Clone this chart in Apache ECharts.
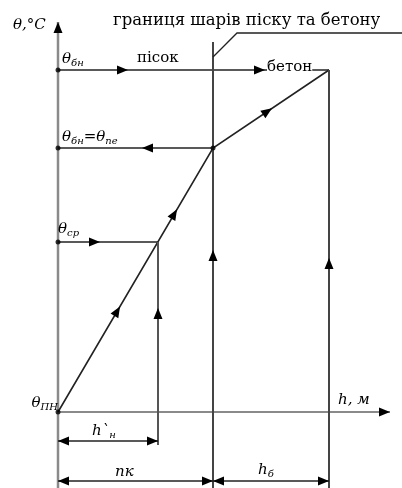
<!DOCTYPE html>
<html>
<head>
<meta charset="utf-8">
<script src="https://cdn.jsdelivr.net/npm/echarts@6/dist/echarts.min.js"></script>
<style>
  html, body { margin: 0; background: #fff; }
  #chart { width: 402px; height: 488px; }
</style>
</head>
<body>
<div id="chart"></div>
<script>
// schematic units: h along the layers, θ temperature, origin = θПН
const hMarks = [0, 10.0, 15.5, 27.1];        // 0, h`н, hпк, hпк + hб
const thetaMarks = [0, 17.0, 26.4, 34.2];    // θПН, θср, θбн=θпе, θбн
const hAxisEnd = 33.2;
const thetaAxisEnd = 39.0;
const lowEdge = -7.6;

// temperature profile: sand, then concrete
const profile = [[0, 0], [15.5, 26.4], [27.1, 34.2]];

// arrows on the profile: [segment, h of tip]
const flowArrows = [[0, 6.2], [0, 11.9], [1, 21.4]];
// arrows on the level lines: [h tip, θ, direction]
const levelArrows = [[7.0, 34.2, 0], [20.7, 34.2, 0], [8.4, 26.4, 180], [4.2, 17.0, 0]];
// arrows going up the verticals: [h, θ tip]
const riseArrows = [[10.0, 10.4], [15.5, 16.2], [27.1, 15.4]];
// dimension lines: [h from, h to, θ]
const dims = [[0, 10.0, -2.9], [0, 15.5, -6.9], [15.5, 27.1, -6.9]];
// leader to the caption
const leader = [[15.5, 35.5], [17.9, 37.9], [34.4, 37.9]];

const labels = [
  { at: [5.5, 38.3], text: 'границя шарів піску та бетону', kind: 'title' },
  { at: [7.9, 34.6], text: 'пісок', kind: 'plain' },
  { at: [20.9, 33.7], text: 'бетон', kind: 'plain' },
  { at: [-4.5, 37.9], text: '{t|θ,°C}', kind: 'rich' },
  { at: [0.4, 34.4], text: '{t|θ}{s|бн}', kind: 'rich' },
  { at: [0.4, 26.6], text: '{t|θ}{s|бн}{t|=θ}{s|пе}', kind: 'rich' },
  { at: [0.0, 17.4], text: '{t|θ}{s|ср}', kind: 'rich' },
  { at: [0.0, 0.0], text: '{t|θ}{s|ПН}', kind: 'rich', align: 'right' },
  { at: [28.0, 0.4], text: '{t|h, м}', kind: 'rich' },
  { at: [3.4, -2.8], text: '{t|h`}{s|н}', kind: 'rich' },
  { at: [5.7, -6.8], text: '{t|пк}', kind: 'rich' },
  { at: [20.0, -6.7], text: '{t|h}{s|б}', kind: 'rich' }
];

const axisGrey = '#8a8a8a';
const ink = '#222';
const serif = '"DejaVu Serif", "Liberation Serif", serif';

const segLines = [];
function addLine(coords, color, width) {
  segLines.push({ coords: coords, lineStyle: { color: color, width: width, opacity: 1 } });
}
addLine([[0, lowEdge], [0, thetaAxisEnd]], axisGrey, 2.5);
addLine([[0, 0], [hAxisEnd, 0]], axisGrey, 2);
addLine(profile, ink, 1.6);
addLine([[0, thetaMarks[3]], [hMarks[3], thetaMarks[3]]], ink, 1.5);
addLine([[0, thetaMarks[2]], [hMarks[2], thetaMarks[2]]], ink, 1.5);
addLine([[0, thetaMarks[1]], [hMarks[1], thetaMarks[1]]], ink, 1.5);
addLine([[hMarks[1], thetaMarks[1]], [hMarks[1], -3.3]], '#555', 2);
addLine([[hMarks[2], 37.0], [hMarks[2], lowEdge]], '#444', 2);
addLine([[hMarks[3], thetaMarks[3]], [hMarks[3], lowEdge]], '#444', 2);
addLine(leader, ink, 1.3);
dims.forEach(d => addLine([[d[0], d[2]], [d[1], d[2]]], ink, 1.5));

// every arrow as [h, θ, angle]
const arrows = [];
arrows.push([0, thetaAxisEnd, 90], [hAxisEnd, 0, 0]);
flowArrows.forEach(f => {
  const a = profile[f[0]], b = profile[f[0] + 1];
  const k = (b[1] - a[1]) / (b[0] - a[0]);
  const ang = Math.atan2(b[1] - a[1], b[0] - a[0]) * 180 / Math.PI;
  arrows.push([f[1], a[1] + k * (f[1] - a[0]), ang]);
});
levelArrows.forEach(l => arrows.push(l));
riseArrows.forEach(r => arrows.push([r[0], r[1], 90]));
dims.forEach(d => {
  arrows.push([d[0], d[2], 180], [d[1], d[2], 0]);
});

const dots = [[0, thetaMarks[3]], [0, thetaMarks[2]], [0, thetaMarks[1]], [0, 0], [hMarks[2], thetaMarks[2]]];

const chart = echarts.init(document.getElementById('chart'));
chart.setOption({
  animation: false,
  backgroundColor: '#fff',
  grid: { left: 0, right: 0, top: 0, bottom: 0 },
  xAxis: { type: 'value', min: -5.8, max: 34.4, show: false },
  yAxis: { type: 'value', min: lowEdge, max: 41.2, show: false },
  series: [
    {
      type: 'lines',
      coordinateSystem: 'cartesian2d',
      polyline: true,
      silent: true,
      lineStyle: { opacity: 1 },
      data: segLines
    },
    {
      type: 'custom',
      silent: true,
      data: arrows,
      renderItem: function (params, api) {
        const p = api.coord([api.value(0), api.value(1)]);
        const a = api.value(2) * Math.PI / 180;
        const dx = Math.cos(a), dy = -Math.sin(a);
        const L = 11, W = 4.5;
        const bx = p[0] - dx * L, by = p[1] - dy * L;
        return {
          type: 'polygon',
          shape: { points: [[p[0], p[1]], [bx - dy * W, by + dx * W], [bx + dy * W, by - dx * W]] },
          style: { fill: '#000' }
        };
      }
    },
    {
      type: 'scatter',
      silent: true,
      symbolSize: 5,
      itemStyle: { color: '#000' },
      data: dots
    },
    {
      type: 'custom',
      silent: true,
      data: labels.map(l => l.at),
      renderItem: function (params, api) {
        const l = labels[params.dataIndex];
        const p = api.coord([api.value(0), api.value(1)]);
        const style = {
          text: l.text,
          x: p[0],
          y: p[1],
          align: l.align || 'left',
          verticalAlign: 'bottom',
          fill: '#000'
        };
        if (l.kind === 'title') {
          style.font = '16.5px ' + serif;
        } else if (l.kind === 'plain') {
          style.font = '15px ' + serif;
          style.backgroundColor = '#fff';
        } else {
          style.rich = {
            t: { font: 'italic 15px ' + serif, fill: '#000' },
            s: { font: 'italic 10px ' + serif, fill: '#000', padding: [7, 0, 0, 0] }
          };
        }
        return { type: 'text', style: style };
      }
    }
  ]
});
</script>
</body>
</html>
